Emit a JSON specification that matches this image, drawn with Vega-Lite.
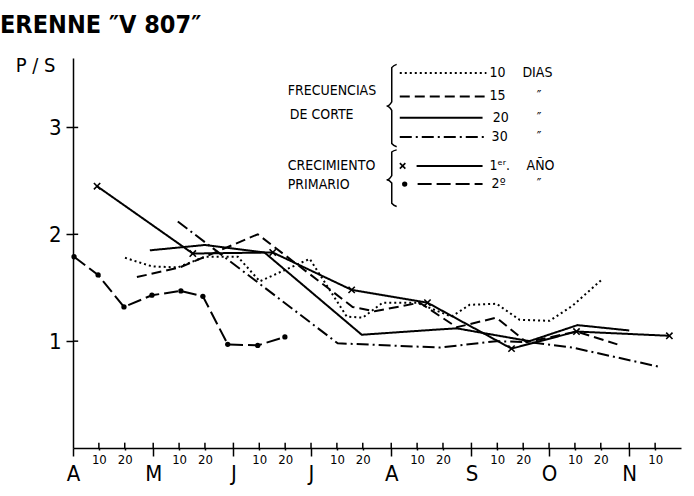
{
  "$schema": "https://vega.github.io/schema/vega-lite/v6.json",
  "width": 608,
  "height": 390,
  "autosize": {"type": "none"},
  "padding": {"left": 73, "top": 58, "right": 13, "bottom": 48},
  "background": "white",
  "title": {
    "text": "ERENNE ″V 807″",
    "anchor": "start",
    "frame": "group",
    "dx": -73,
    "offset": 17,
    "font": "DejaVu Sans Condensed, Liberation Sans Narrow, DejaVu Sans",
    "fontSize": 25,
    "fontWeight": "bold",
    "color": "black"
  },
  "config": {
    "view": {"stroke": null},
    "font": "DejaVu Sans Condensed, Liberation Sans Narrow, DejaVu Sans",
    "axis": {"labelOverlap": false, "labelFlush": false, "labelBound": false, "grid": false}
  },
  "datasets": {
    "series": [
      {"serie": "10 días", "dia": 20.1, "ps": 1.78},
      {"serie": "10 días", "dia": 30.5, "ps": 1.70},
      {"serie": "10 días", "dia": 40.5, "ps": 1.69},
      {"serie": "10 días", "dia": 51, "ps": 1.79},
      {"serie": "10 días", "dia": 63.7, "ps": 1.79},
      {"serie": "10 días", "dia": 72.2, "ps": 1.56},
      {"serie": "10 días", "dia": 91.5, "ps": 1.77},
      {"serie": "10 días", "dia": 105.8, "ps": 1.23},
      {"serie": "10 días", "dia": 112, "ps": 1.22},
      {"serie": "10 días", "dia": 119.7, "ps": 1.36},
      {"serie": "10 días", "dia": 132.8, "ps": 1.36},
      {"serie": "10 días", "dia": 146.3, "ps": 1.23},
      {"serie": "10 días", "dia": 153.3, "ps": 1.34},
      {"serie": "10 días", "dia": 163.7, "ps": 1.35},
      {"serie": "10 días", "dia": 172.6, "ps": 1.20},
      {"serie": "10 días", "dia": 184.2, "ps": 1.19},
      {"serie": "10 días", "dia": 193, "ps": 1.33},
      {"serie": "10 días", "dia": 204.6, "ps": 1.58},
      {"serie": "15 días", "dia": 24.7, "ps": 1.60},
      {"serie": "15 días", "dia": 41.3, "ps": 1.69},
      {"serie": "15 días", "dia": 71.4, "ps": 2.00},
      {"serie": "15 días", "dia": 108.1, "ps": 1.32},
      {"serie": "15 días", "dia": 116.6, "ps": 1.28},
      {"serie": "15 días", "dia": 134, "ps": 1.36},
      {"serie": "15 días", "dia": 148.3, "ps": 1.13},
      {"serie": "15 días", "dia": 163.7, "ps": 1.22},
      {"serie": "15 días", "dia": 175.3, "ps": 0.99},
      {"serie": "15 días", "dia": 194.6, "ps": 1.09},
      {"serie": "15 días", "dia": 210.4, "ps": 0.97},
      {"serie": "20 días", "dia": 29.7, "ps": 1.85},
      {"serie": "20 días", "dia": 51, "ps": 1.90},
      {"serie": "20 días", "dia": 74, "ps": 1.83},
      {"serie": "20 días", "dia": 111.6, "ps": 1.06},
      {"serie": "20 días", "dia": 141.7, "ps": 1.11},
      {"serie": "20 días", "dia": 148.3, "ps": 1.12},
      {"serie": "20 días", "dia": 176.4, "ps": 1.00},
      {"serie": "20 días", "dia": 195, "ps": 1.15},
      {"serie": "20 días", "dia": 215, "ps": 1.10},
      {"serie": "30 días", "dia": 40.5, "ps": 2.12},
      {"serie": "30 días", "dia": 102.3, "ps": 0.98},
      {"serie": "30 días", "dia": 141.7, "ps": 0.94},
      {"serie": "30 días", "dia": 163.7, "ps": 1.00},
      {"serie": "30 días", "dia": 176.4, "ps": 0.99},
      {"serie": "30 días", "dia": 193, "ps": 0.94},
      {"serie": "30 días", "dia": 226.6, "ps": 0.76},
      {"serie": "1er año", "dia": 9.3, "ps": 2.45},
      {"serie": "1er año", "dia": 46.3, "ps": 1.82},
      {"serie": "1er año", "dia": 77.2, "ps": 1.83},
      {"serie": "1er año", "dia": 107.7, "ps": 1.48},
      {"serie": "1er año", "dia": 137, "ps": 1.36},
      {"serie": "1er año", "dia": 169.5, "ps": 0.93},
      {"serie": "1er año", "dia": 194.6, "ps": 1.09},
      {"serie": "1er año", "dia": 230.5, "ps": 1.05},
      {"serie": "2º año", "dia": 0.4, "ps": 1.79},
      {"serie": "2º año", "dia": 9.7, "ps": 1.62},
      {"serie": "2º año", "dia": 19.7, "ps": 1.32},
      {"serie": "2º año", "dia": 30.5, "ps": 1.43},
      {"serie": "2º año", "dia": 41.7, "ps": 1.47},
      {"serie": "2º año", "dia": 50.2, "ps": 1.42},
      {"serie": "2º año", "dia": 59.8, "ps": 0.97},
      {"serie": "2º año", "dia": 71.4, "ps": 0.96},
      {"serie": "2º año", "dia": 81.9, "ps": 1.04}
    ],
    "leyenda": [
      {"serie": "10 días", "x1": 126.3, "x2": 159.8, "y": 3.51},
      {"serie": "15 días", "x1": 126.3, "x2": 159.1, "y": 3.29},
      {"serie": "20 días", "x1": 126.3, "x2": 158.3, "y": 3.09},
      {"serie": "30 días", "x1": 126.3, "x2": 159.1, "y": 2.91},
      {"serie": "1er año", "x1": 132.8, "x2": 158.3, "y": 2.64, "xm": 127.4},
      {"serie": "2º año", "x1": 133.2, "x2": 158.3, "y": 2.47, "xm": 128.2}
    ],
    "textos": [
      {"t": "FRECUENCIAS", "x": 83, "y": 3.34},
      {"t": "DE CORTE", "x": 83.8, "y": 3.12},
      {"t": "CRECIMIENTO", "x": 83, "y": 2.64},
      {"t": "PRIMARIO", "x": 83, "y": 2.46},
      {"t": "10", "x": 161, "y": 3.51},
      {"t": "DIAS", "x": 173.7, "y": 3.51},
      {"t": "15", "x": 161, "y": 3.29},
      {"t": "″", "x": 179.2, "y": 3.29},
      {"t": "20", "x": 162.2, "y": 3.09},
      {"t": "″", "x": 179.2, "y": 3.09},
      {"t": "30", "x": 161.8, "y": 2.91},
      {"t": "″", "x": 179.2, "y": 2.91},
      {"t": "1ᵉʳ.", "x": 161, "y": 2.64},
      {"t": "AÑO", "x": 175.3, "y": 2.64},
      {"t": "2º", "x": 161.8, "y": 2.47},
      {"t": "″", "x": 179.2, "y": 2.47}
    ],
    "llaves": [
      {"b": 1, "i": 0, "x": 125.1, "y": 3.59},
      {"b": 1, "i": 1, "x": 123.2, "y": 3.56},
      {"b": 1, "i": 2, "x": 123.2, "y": 3.24},
      {"b": 1, "i": 3, "x": 121.2, "y": 3.20},
      {"b": 1, "i": 4, "x": 123.2, "y": 3.16},
      {"b": 1, "i": 5, "x": 123.2, "y": 2.85},
      {"b": 1, "i": 6, "x": 125.1, "y": 2.82},
      {"b": 2, "i": 0, "x": 125.1, "y": 2.79},
      {"b": 2, "i": 1, "x": 123.2, "y": 2.77},
      {"b": 2, "i": 2, "x": 123.2, "y": 2.55},
      {"b": 2, "i": 3, "x": 121.2, "y": 2.51},
      {"b": 2, "i": 4, "x": 123.2, "y": 2.48},
      {"b": 2, "i": 5, "x": 123.2, "y": 2.29},
      {"b": 2, "i": 6, "x": 125.1, "y": 2.26}
    ],
    "marcas": [
      {"x": 10, "x2": 10, "y": 0, "y2": 0.05},
      {"x": 20, "x2": 20, "y": 0, "y2": 0.05},
      {"x": 31, "x2": 31, "y": 0, "y2": 0.05},
      {"x": 41, "x2": 41, "y": 0, "y2": 0.05},
      {"x": 51, "x2": 51, "y": 0, "y2": 0.05},
      {"x": 62, "x2": 62, "y": 0, "y2": 0.05},
      {"x": 72, "x2": 72, "y": 0, "y2": 0.05},
      {"x": 82, "x2": 82, "y": 0, "y2": 0.05},
      {"x": 92, "x2": 92, "y": 0, "y2": 0.05},
      {"x": 102, "x2": 102, "y": 0, "y2": 0.05},
      {"x": 112, "x2": 112, "y": 0, "y2": 0.05},
      {"x": 123, "x2": 123, "y": 0, "y2": 0.05},
      {"x": 133, "x2": 133, "y": 0, "y2": 0.05},
      {"x": 143, "x2": 143, "y": 0, "y2": 0.05},
      {"x": 154, "x2": 154, "y": 0, "y2": 0.05},
      {"x": 164, "x2": 164, "y": 0, "y2": 0.05},
      {"x": 174, "x2": 174, "y": 0, "y2": 0.05},
      {"x": 184, "x2": 184, "y": 0, "y2": 0.05},
      {"x": 194, "x2": 194, "y": 0, "y2": 0.05},
      {"x": 204, "x2": 204, "y": 0, "y2": 0.05},
      {"x": 215, "x2": 215, "y": 0, "y2": 0.05},
      {"x": 225, "x2": 225, "y": 0, "y2": 0.05},
      {"x": 0, "x2": 2, "y": 1, "y2": 1},
      {"x": 0, "x2": 2, "y": 2, "y2": 2},
      {"x": 0, "x2": 2, "y": 3, "y2": 3}
    ]
  },
  "layer": [
    {
      "data": {"name": "series"},
      "mark": {"type": "line", "color": "black", "strokeWidth": 2, "clip": false},
      "encoding": {
        "x": {
          "field": "dia", "type": "quantitative",
          "scale": {"domain": [0, 235], "nice": false, "zero": false},
          "axis": {
            "title": null,
            "grid": false,
            "tickCount": 60,
            "values": [0, 10, 20, 31, 41, 51, 62, 72, 82, 92, 102, 112, 123, 133, 143, 154, 164, 174, 184, 194, 204, 215, 225],
            "labelExpr": "indexof([0,31,62,92,123,154,184,215], datum.value) >= 0 ? ['A','M','J','J','A','S','O','N'][indexof([0,31,62,92,123,154,184,215], datum.value)] : (indexof([10,41,72,102,133,164,194,225], datum.value) >= 0 ? '10' : '20')",
            "labelFontSize": {"condition": {"test": "indexof([0,31,62,92,123,154,184,215], datum.value) >= 0", "value": 22}, "value": 13},
            "labelPadding": {"condition": {"test": "indexof([0,31,62,92,123,154,184,215], datum.value) >= 0", "value": 7}, "value": 3},
            "tickSize": {"condition": {"test": "indexof([0,31,62,92,123,154,184,215], datum.value) >= 0", "value": 8}, "value": 2},
            "labelOverlap": false,
            "labelFlush": false,
            "labelBound": false,
            "labelColor": "black",
            "labelBaseline": "top",
            "domainColor": "black",
            "domainWidth": 1.5,
            "tickColor": "black",
            "tickWidth": 1.5
          }
        },
        "y": {
          "field": "ps", "type": "quantitative",
          "scale": {"domain": [0, 3.65], "nice": false},
          "axis": {
            "title": "P / S",
            "titleAngle": 0,
            "titleX": -38,
            "titleY": 7,
            "titleAlign": "center",
            "titleBaseline": "middle",
            "titleFontSize": 20,
            "titleFontWeight": "normal",
            "titleColor": "black",
            "grid": false,
            "values": [1, 2, 3],
            "format": "d",
            "labelFontSize": 22,
            "labelColor": "black",
            "labelPadding": 5,
            "tickSize": 7,
            "tickColor": "black",
            "tickWidth": 1.5,
            "domainColor": "black",
            "domainWidth": 1.5
          }
        },
        "detail": {"field": "serie"},
        "strokeDash": {
          "field": "serie", "type": "nominal",
          "scale": {
            "domain": ["10 días", "15 días", "20 días", "30 días", "1er año", "2º año"],
            "range": [[2, 3], [10, 5], [1, 0], [12, 4, 2, 4], [1, 0], [14, 5]]
          },
          "legend": null
        }
      }
    },
    {
      "data": {"name": "marcas"},
      "mark": {"type": "rule", "color": "black", "strokeWidth": 1.5},
      "encoding": {
        "x": {"field": "x", "type": "quantitative"},
        "x2": {"field": "x2"},
        "y": {"field": "y", "type": "quantitative"},
        "y2": {"field": "y2"}
      }
    },
    {
      "data": {"name": "series"},
      "transform": [{"filter": "datum.serie == '1er año'"}],
      "mark": {"type": "point", "shape": "M-1,-1L1,1M-1,1L1,-1", "filled": false, "color": "black", "size": 40, "strokeWidth": 1.6, "opacity": 1},
      "encoding": {
        "x": {"field": "dia", "type": "quantitative"},
        "y": {"field": "ps", "type": "quantitative"}
      }
    },
    {
      "data": {"name": "series"},
      "transform": [{"filter": "datum.serie == '2º año'"}],
      "mark": {"type": "circle", "color": "black", "size": 28, "opacity": 1},
      "encoding": {
        "x": {"field": "dia", "type": "quantitative"},
        "y": {"field": "ps", "type": "quantitative"}
      }
    },
    {
      "data": {"name": "leyenda"},
      "mark": {"type": "rule", "color": "black", "strokeWidth": 2},
      "encoding": {
        "x": {"field": "x1", "type": "quantitative"},
        "x2": {"field": "x2"},
        "y": {"field": "y", "type": "quantitative"},
        "strokeDash": {"field": "serie", "type": "nominal", "legend": null}
      }
    },
    {
      "data": {"name": "leyenda"},
      "transform": [{"filter": "datum.serie == '1er año'"}],
      "mark": {"type": "point", "shape": "M-1,-1L1,1M-1,1L1,-1", "filled": false, "color": "black", "size": 30, "strokeWidth": 1.6, "opacity": 1},
      "encoding": {
        "x": {"field": "xm", "type": "quantitative"},
        "y": {"field": "y", "type": "quantitative"}
      }
    },
    {
      "data": {"name": "leyenda"},
      "transform": [{"filter": "datum.serie == '2º año'"}],
      "mark": {"type": "circle", "color": "black", "size": 28, "opacity": 1},
      "encoding": {
        "x": {"field": "xm", "type": "quantitative"},
        "y": {"field": "y", "type": "quantitative"}
      }
    },
    {
      "data": {"name": "textos"},
      "mark": {"type": "text", "align": "left", "baseline": "middle", "fontSize": 14, "color": "black"},
      "encoding": {
        "x": {"field": "x", "type": "quantitative"},
        "y": {"field": "y", "type": "quantitative"},
        "text": {"field": "t"}
      }
    },
    {
      "data": {"name": "llaves"},
      "mark": {"type": "line", "color": "black", "strokeWidth": 1.5, "interpolate": "monotone"},
      "encoding": {
        "x": {"field": "x", "type": "quantitative"},
        "y": {"field": "y", "type": "quantitative"},
        "detail": {"field": "b"},
        "order": {"field": "i"}
      }
    }
  ]
}
